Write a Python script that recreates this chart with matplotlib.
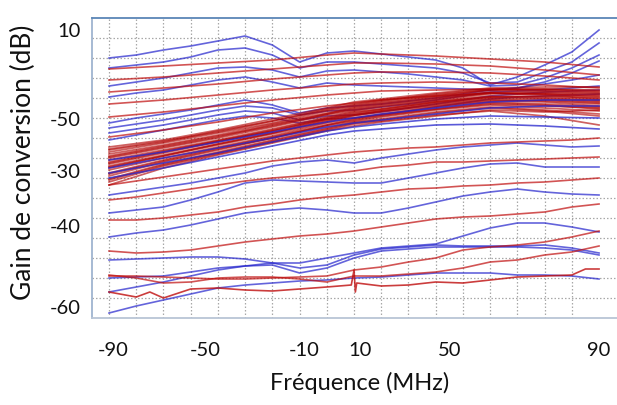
import matplotlib
matplotlib.use("Agg")
import matplotlib.pyplot as plt

# ---------------- data ----------------
X19 = [-90, -80, -70, -60, -50, -40, -30, -20, -10, 0, 10, 20, 30, 40, 50, 60, 70, 80, 90]
XC = [-90, -70, -50, -30, -10, 0, 10, 30, 50, 70, 90]

x_tick_pos = [-88.5, -54.7, -18.4, 2.2, 35.3, 90.0]
x_tick_labels = ["-90", "-50", "-10", "10", "50", "90"]
y_tick_pos = [7.0, -15.25, -28.25, -42.0, -62.25]
y_tick_labels = ["10", "-50", "-30", "-40", "-60"]

# upper blue curves (X19)
blue_up_1 = [0.0, 0.75, 2.0, 3.0, 4.25, 5.5, 3.25, -1.0, 1.25, 1.75, 1.0, 0.25, -0.5, -2.5, -6.75, -4.75, -1.75, 1.5, 7.0]
blue_up_2 = [-2.5, -1.75, -1.0, 0.25, 2.0, 2.5, 0.75, -2.5, -1.0, -1.0, -1.5, -2.0, -2.5, -3.75, -6.25, -6.0, -3.5, -1.0, 3.75]
blue_up_3 = [-7.0, -6.0, -5.0, -3.75, -2.5, -2.25, -3.0, -4.75, -3.25, -3.0, -3.5, -4.0, -4.75, -5.5, -7.0, -6.75, -5.0, -2.5, 0.75]
blue_up_4 = [-9.75, -8.75, -8.0, -6.75, -5.5, -4.75, -6.0, -7.5, -6.25, -6.75, -7.0, -7.25, -7.5, -7.75, -8.0, -7.5, -6.0, -3.75, -0.75]
blue_up_5 = [-16.25, -15.0, -14.0, -13.0, -11.75, -10.5, -11.75, -13.75, -12.5, -12.0, -11.5, -10.75, -10.0, -9.0, -8.0, -7.5, -6.5, -5.5, -4.25]
blue_up_6 = [-17.5, -16.5, -15.5, -14.25, -13.0, -12.0, -12.5, -14.25, -13.25, -13.0, -12.25, -11.5, -10.5, -9.5, -8.5, -8.25, -8.0, -7.5, -7.0]
blue_up_7 = [-18.75, -17.75, -16.75, -15.5, -14.25, -13.25, -13.75, -15.5, -14.5, -14.25, -13.5, -12.5, -11.5, -10.5, -9.5, -9.0, -8.5, -8.25, -8.0]
blue_up_8 = [-20.5, -19.25, -18.0, -16.75, -15.5, -14.5, -15.0, -16.25, -15.25, -15.0, -14.25, -13.25, -12.25, -11.25, -10.25, -9.75, -9.5, -9.25, -9.0]

# upper red curves (XC)
red_up_1 = [-2.75, -2.0, -1.25, -0.5, 0.75, 1.25, 1.0, 0.5, -0.25, -1.0, -2.25]
red_up_2 = [-5.5, -4.75, -3.75, -2.75, -1.75, -1.25, -1.25, -1.5, -2.0, -3.0, -4.25]
red_up_3 = [-8.5, -7.5, -6.5, -5.25, -4.25, -3.75, -3.5, -3.5, -3.75, -4.5, -5.5]
red_up_4 = [-11.5, -10.5, -9.25, -8.0, -7.0, -6.5, -6.25, -6.0, -6.25, -6.75, -7.5]
red_up_5 = [-14.75, -13.5, -12.0, -10.5, -9.25, -8.75, -8.25, -8.0, -7.75, -8.0, -8.5]
red_up_6 = [-19.75, -18.0, -16.0, -13.75, -12.0, -11.25, -10.5, -9.5, -8.75, -9.0, -9.5]

# dense band, blue (XC)
blue_band_1 = [-25.5, -23.5, -21.0, -18.5, -16.0, -15.0, -14.0, -12.5, -11.0, -10.5, -10.5]
blue_band_2 = [-27.5, -25.0, -22.5, -20.0, -17.25, -16.25, -15.5, -14.0, -12.5, -12.0, -12.0]
blue_band_3 = [-28.75, -26.25, -23.75, -21.0, -18.25, -17.25, -16.5, -15.25, -14.5, -14.75, -15.0]
blue_band_4 = [-30.0, -27.5, -24.75, -22.0, -19.25, -18.25, -17.75, -16.75, -16.5, -17.0, -17.75]

# dense band, red (XC)
red_band_1 = [-22.25, -20.5, -18.0, -15.25, -12.5, -11.0, -10.25, -8.75, -7.5, -7.25, -7.25]
red_band_2 = [-22.75, -20.75, -18.5, -15.75, -13.0, -11.75, -10.75, -9.0, -7.75, -7.75, -8.25]
red_band_3 = [-23.5, -21.25, -18.75, -16.25, -13.25, -12.0, -11.0, -9.5, -8.0, -7.75, -8.0]
red_band_4 = [-24.0, -21.75, -19.25, -16.5, -13.75, -12.25, -11.25, -9.75, -8.5, -8.5, -9.0]
red_band_5 = [-24.5, -22.0, -19.5, -17.0, -14.0, -12.75, -11.75, -10.25, -8.75, -9.0, -9.75]
red_band_6 = [-25.0, -22.5, -20.0, -17.25, -14.25, -13.0, -12.0, -10.5, -9.0, -8.75, -9.25]
red_band_7 = [-25.5, -23.0, -20.5, -17.75, -14.75, -13.25, -12.25, -10.75, -9.5, -9.75, -10.5]
red_band_8 = [-26.0, -23.25, -20.75, -18.0, -15.0, -13.5, -12.75, -11.0, -9.75, -9.5, -10.0]
red_band_9 = [-26.5, -23.75, -21.0, -18.25, -15.25, -14.0, -13.0, -11.25, -10.0, -10.25, -11.0]
red_band_10 = [-27.0, -24.25, -21.5, -18.75, -15.5, -14.25, -13.25, -11.5, -10.25, -10.75, -11.5]
red_band_11 = [-27.5, -24.5, -21.75, -19.0, -16.0, -14.5, -13.5, -12.0, -10.75, -10.5, -11.25]
red_band_12 = [-28.0, -25.0, -22.25, -19.5, -16.25, -15.0, -14.0, -12.25, -11.0, -11.5, -12.25]
red_band_13 = [-28.75, -25.5, -22.5, -19.75, -16.75, -15.25, -14.25, -12.75, -11.25, -11.75, -12.75]
red_band_14 = [-29.5, -26.0, -23.0, -20.0, -17.0, -15.75, -14.75, -13.0, -11.75, -12.5, -13.25]
red_band_15 = [-30.25, -26.5, -23.5, -20.5, -17.5, -16.0, -15.25, -13.5, -12.25, -13.0, -14.0]
red_band_16 = [-31.0, -27.0, -24.0, -21.0, -18.0, -16.5, -15.75, -14.25, -13.25, -14.5, -16.75]
red_band_17 = [-31.75, -27.5, -24.25, -21.25, -18.25, -17.0, -16.0, -14.5, -13.0, -13.5, -13.0]
red_band_18 = [-23.0, -21.0, -18.25, -15.75, -12.75, -11.5, -10.5, -9.25, -8.0, -8.25, -8.75]
red_band_19 = [-24.75, -22.25, -19.75, -16.75, -14.0, -12.5, -11.5, -10.0, -8.75, -9.25, -10.25]
red_band_20 = [-26.25, -23.5, -20.75, -18.25, -15.25, -13.75, -12.75, -11.0, -9.75, -10.0, -10.75]
red_band_21 = [-27.25, -24.5, -21.5, -18.75, -15.75, -14.25, -13.25, -11.75, -10.5, -11.0, -12.0]
red_band_22 = [-29.0, -25.75, -22.75, -20.0, -16.75, -15.5, -14.5, -12.75, -11.5, -12.0, -12.5]
red_band_23 = [-30.5, -26.75, -23.75, -20.75, -17.75, -16.25, -15.5, -13.75, -12.5, -13.25, -14.5]

# lower blue curves (X19)
blue_low_1 = [-34.25, -33.25, -32.25, -31.25, -30.0, -28.75, -27.0, -26.0, -25.5, -26.25, -25.0, -24.0, -23.0, -22.25, -21.75, -21.25, -21.75, -22.25, -22.0]
blue_low_2 = [-38.75, -38.0, -37.25, -35.5, -33.5, -31.25, -30.5, -30.75, -31.0, -31.25, -31.25, -30.0, -28.75, -27.5, -26.5, -26.25, -27.25, -27.25, -27.25]
blue_low_3 = [-44.75, -43.75, -43.0, -41.75, -40.25, -38.75, -38.0, -37.5, -38.0, -38.75, -38.75, -37.5, -36.0, -34.5, -33.5, -32.75, -33.5, -34.0, -34.25]
blue_low_4 = [-50.5, -50.25, -50.0, -49.75, -49.75, -50.25, -51.25, -51.25, -50.0, -48.75, -47.5, -47.0, -46.5, -44.5, -42.5, -41.25, -41.25, -42.25, -43.5]
blue_low_5 = [-55.0, -54.75, -54.5, -53.5, -52.5, -52.0, -51.75, -53.75, -52.5, -50.0, -48.25, -47.75, -47.25, -47.25, -47.25, -47.25, -47.5, -48.0, -49.25]
blue_low_6 = [-58.5, -57.25, -56.0, -54.5, -53.0, -52.0, -51.25, -52.5, -51.75, -49.25, -47.75, -47.25, -46.75, -47.0, -47.0, -47.0, -46.75, -47.5, -48.75]
blue_low_7 = [-63.75, -62.0, -60.5, -59.0, -57.5, -56.75, -56.25, -55.75, -55.5, -55.0, -54.75, -54.25, -53.75, -53.75, -53.75, -54.25, -54.25, -54.5, -55.25]

# lower red curves (X19)
red_low_1 = [-31.75, -30.75, -29.75, -28.75, -27.75, -26.75, -25.75, -25.0, -24.25, -23.5, -23.0, -22.5, -22.25, -21.75, -21.25, -21.0, -20.75, -20.5, -20.0]
red_low_2 = [-35.5, -34.75, -33.75, -32.75, -31.75, -30.75, -30.0, -29.5, -29.0, -28.25, -27.25, -26.75, -26.0, -26.0, -25.75, -25.5, -25.25, -25.0, -24.75]
red_low_3 = [-40.5, -40.5, -40.0, -39.25, -38.5, -37.25, -36.5, -35.5, -34.75, -34.25, -33.5, -32.75, -32.5, -32.0, -31.75, -31.25, -31.0, -30.5, -30.0]
red_low_4 = [-48.25, -48.75, -48.5, -48.0, -47.0, -46.0, -45.25, -44.5, -44.0, -43.25, -42.25, -41.25, -40.25, -39.75, -39.5, -39.0, -38.5, -37.25, -36.5]
red_low_5 = [-54.5, -54.5, -54.75, -55.0, -55.25, -55.25, -55.0, -54.75, -54.5, -53.0, -52.25, -51.0, -50.0, -48.0, -47.25, -46.75, -46.0, -44.75, -43.25]
red_low_6 = [-54.25, -55.0, -56.25, -56.0, -55.0, -54.75, -54.75, -55.25, -56.0, -54.5, -54.5, -54.0, -53.5, -52.5, -51.0, -50.5, -49.25, -48.5, -47.0]

# the jagged lowest red curve (own frequency points)
red_jag_x = [-90, -80, -75, -70, -60, -50, -40, -30, -20, -10, -1, 0, 0.5, 1, 10, 20, 30, 40, 50, 60, 70, 80, 85, 90]
red_jag_y = [-58.5, -59.75, -58.5, -60.0, -57.75, -57.5, -58.0, -58.25, -57.75, -57.25, -56.75, -53.0, -58.5, -56.25,
             -57.0, -56.75, -56.0, -56.25, -55.5, -54.75, -54.5, -54.25, -52.75, -52.75]

# ---------------- figure ----------------
plt.rcParams['font.family'] = ['Lato', 'DejaVu Sans']

W, H = 617, 405
fig = plt.figure(figsize=(W / 100, H / 100), dpi=100)
ax = fig.add_axes([92 / W, 1 - 318 / H, 1 - 92 / W, 300 / H])
ax.set_xlim(-96.25, 96.6)
ax.set_ylim(-65, 10)

BLUE = '#2323cc'
RED = '#bf0c0c'
BAND_RED = '#b00000'
LW = 1.2

blue_band = [blue_band_1, blue_band_2, blue_band_3, blue_band_4]
red_band = [red_band_1, red_band_2, red_band_3, red_band_4, red_band_5, red_band_6, red_band_7, red_band_8,
            red_band_9, red_band_10, red_band_11, red_band_12, red_band_13, red_band_14, red_band_15,
            red_band_16, red_band_17, red_band_18, red_band_19, red_band_20, red_band_21, red_band_22,
            red_band_23]
blue_up = [blue_up_1, blue_up_2, blue_up_3, blue_up_4, blue_up_5, blue_up_6, blue_up_7, blue_up_8]
red_up = [red_up_1, red_up_2, red_up_3, red_up_4, red_up_5, red_up_6]
blue_low = [blue_low_1, blue_low_2, blue_low_3, blue_low_4, blue_low_5, blue_low_6, blue_low_7]
red_low = [red_low_1, red_low_2, red_low_3, red_low_4, red_low_5, red_low_6]

for ys in blue_up + blue_low:
    ax.plot(X19, ys, color=BLUE, lw=LW, alpha=0.7, zorder=3)
for ys in red_up:
    ax.plot(XC, ys, color=RED, lw=LW, alpha=0.7, zorder=4)
for ys in red_low:
    ax.plot(X19, ys, color=RED, lw=LW, alpha=0.7, zorder=4)
for ys in red_band:
    ax.plot(XC, ys, color=BAND_RED, lw=1.25, alpha=0.62, zorder=4)
for ys in blue_band:
    ax.plot(XC, ys, color=BLUE, lw=LW, alpha=0.75, zorder=5)
ax.plot(red_jag_x, red_jag_y, color=RED, lw=LW, alpha=0.8, zorder=4)

# grid (minor ticks) at regular positions
ax.set_xticks(list(range(-90, 91, 10)), minor=True)
ax.set_yticks(list(range(-60, 10, 5)), minor=True)
ax.grid(which='minor', color='#a8a8a8', linestyle=(0, (1.2, 1.6)), linewidth=0.9, zorder=1)
ax.set_axisbelow(True)

ax.set_xticks(x_tick_pos, x_tick_labels)
ax.set_yticks(y_tick_pos, y_tick_labels)
ax.tick_params(which='both', length=0)
ax.tick_params(axis='x', pad=17, labelsize=14.5, colors='#111111')
ax.tick_params(axis='y', pad=8, labelsize=14.5, colors='#111111')

ax.spines['right'].set_visible(False)
ax.spines['left'].set_color('#9fb4d0')
ax.spines['top'].set_color('#5a86b6')
ax.spines['bottom'].set_color('#b9c5d6')
for s in ('left', 'top', 'bottom'):
    ax.spines[s].set_linewidth(1.3)

fig.text(360 / W, 1 - 383 / H, 'Fréquence (MHz)', ha='center', va='center', fontsize=17, color='#111111')
fig.text(23 / W, 1 - 162 / H, 'Gain de conversion (dB)', ha='center', va='center', rotation=90,
         fontsize=19, color='#111111')

fig.savefig('out.png', dpi=100)
